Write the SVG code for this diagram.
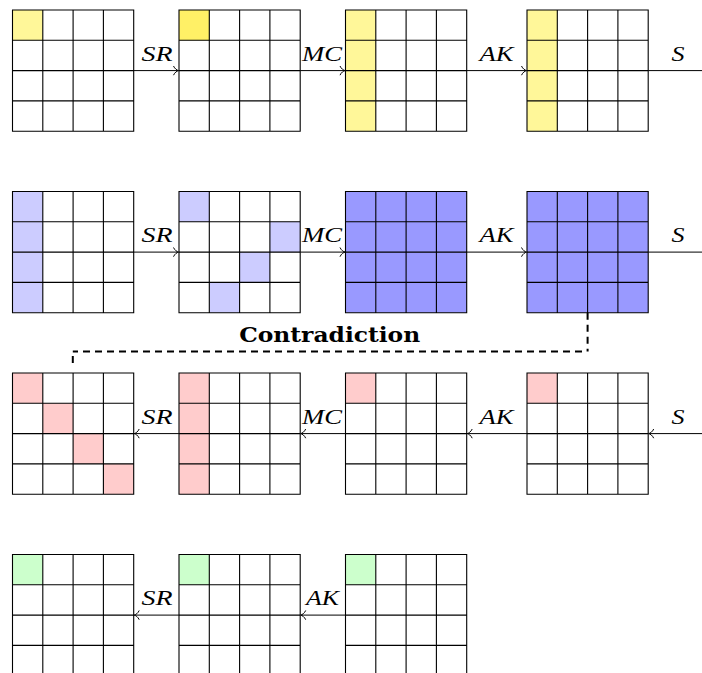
<svg xmlns="http://www.w3.org/2000/svg" xmlns:xlink="http://www.w3.org/1999/xlink" width="702" height="673" viewBox="0 0 702 673">
<style>
.gl{fill:none;stroke:#000;stroke-width:1.1}
.y1{fill:#FFF799}
.y2{fill:#FFF066}
.b1{fill:#CCCCFF}
.b2{fill:#9999FF}
.r1{fill:#FFCCCC}
.g1{fill:#CCFFCC}
.conn{stroke:#000;stroke-width:1;fill:none;marker-end:url(#arr)}
.lbl{font-family:"Liberation Serif","Times New Roman",serif;font-style:italic;font-size:20px;text-anchor:middle;fill:#000}
.title{font-family:"DejaVu Serif","Liberation Serif",serif;font-weight:bold;font-size:20px;text-anchor:middle;fill:#000}
.dash{stroke:#000;stroke-width:2;fill:none;stroke-dasharray:7 5}
</style>
<defs>
<path id="grid" class="gl" d="M0,0H121.2V121.2H0Z M30.3,0V121.2 M60.6,0V121.2 M90.9,0V121.2 M0,30.3H121.2 M0,60.6H121.2 M0,90.9H121.2"/>
<marker id="arr" markerUnits="userSpaceOnUse" markerWidth="12" markerHeight="12" viewBox="-6 -6 12 12" refX="0" refY="0" orient="auto" overflow="visible">
<path d="M-5,-4.6 C-3.8,-1.8 -1.3,-0.3 0,0 C-1.3,0.3 -3.8,1.8 -5,4.6" fill="none" stroke="#000" stroke-width="1"/>
</marker>
</defs>
<rect width="702" height="673" fill="#fff"/>

<!-- Row 1 (yellow) -->
<g id="r1g1" transform="translate(12.5,10)"><rect class="y1" x="0" y="0" width="30.3" height="30.3"/><use xlink:href="#grid"/></g>
<g id="r1g2" transform="translate(179,10)"><rect class="y2" x="0" y="0" width="30.3" height="30.3"/><use xlink:href="#grid"/></g>
<g id="r1g3" transform="translate(345.5,10)"><rect class="y1" x="0" y="0" width="30.3" height="121.2"/><use xlink:href="#grid"/></g>
<g id="r1g4" transform="translate(527,10)"><rect class="y1" x="0" y="0" width="30.3" height="121.2"/><use xlink:href="#grid"/></g>

<!-- Row 2 (blue) -->
<g id="r2g1" transform="translate(12.5,191.5)"><rect class="b1" x="0" y="0" width="30.3" height="121.2"/><use xlink:href="#grid"/></g>
<g id="r2g2" transform="translate(179,191.5)"><rect class="b1" x="0" y="0" width="30.3" height="30.3"/><rect class="b1" x="90.9" y="30.3" width="30.3" height="30.3"/><rect class="b1" x="60.6" y="60.6" width="30.3" height="30.3"/><rect class="b1" x="30.3" y="90.9" width="30.3" height="30.3"/><use xlink:href="#grid"/></g>
<g id="r2g3" transform="translate(345.5,191.5)"><rect class="b2" x="0" y="0" width="121.2" height="121.2"/><use xlink:href="#grid"/></g>
<g id="r2g4" transform="translate(527,191.5)"><rect class="b2" x="0" y="0" width="121.2" height="121.2"/><use xlink:href="#grid"/></g>

<!-- Row 3 (red) -->
<g id="r3g1" transform="translate(12.5,373)"><rect class="r1" x="0" y="0" width="30.3" height="30.3"/><rect class="r1" x="30.3" y="30.3" width="30.3" height="30.3"/><rect class="r1" x="60.6" y="60.6" width="30.3" height="30.3"/><rect class="r1" x="90.9" y="90.9" width="30.3" height="30.3"/><use xlink:href="#grid"/></g>
<g id="r3g2" transform="translate(179,373)"><rect class="r1" x="0" y="0" width="30.3" height="121.2"/><use xlink:href="#grid"/></g>
<g id="r3g3" transform="translate(345.5,373)"><rect class="r1" x="0" y="0" width="30.3" height="30.3"/><use xlink:href="#grid"/></g>
<g id="r3g4" transform="translate(527,373)"><rect class="r1" x="0" y="0" width="30.3" height="30.3"/><use xlink:href="#grid"/></g>

<!-- Row 4 (green) -->
<g id="r4g1" transform="translate(12.5,554.5)"><rect class="g1" x="0" y="0" width="30.3" height="30.3"/><use xlink:href="#grid"/></g>
<g id="r4g2" transform="translate(179,554.5)"><rect class="g1" x="0" y="0" width="30.3" height="30.3"/><use xlink:href="#grid"/></g>
<g id="r4g3" transform="translate(345.5,554.5)"><rect class="g1" x="0" y="0" width="30.3" height="30.3"/><use xlink:href="#grid"/></g>

<!-- Connectors -->
<g id="connectors">
<line class="conn" x1="133.7" y1="70.6" x2="178.5" y2="70.6"/>
<line class="conn" x1="300.2" y1="70.6" x2="345" y2="70.6"/>
<line class="conn" x1="466.7" y1="70.6" x2="526.5" y2="70.6"/>
<line class="conn" x1="648.2" y1="70.6" x2="712" y2="70.6"/>

<line class="conn" x1="133.7" y1="252.1" x2="178.5" y2="252.1"/>
<line class="conn" x1="300.2" y1="252.1" x2="345" y2="252.1"/>
<line class="conn" x1="466.7" y1="252.1" x2="526.5" y2="252.1"/>
<line class="conn" x1="648.2" y1="252.1" x2="712" y2="252.1"/>

<line class="conn" x1="179" y1="433.6" x2="134.2" y2="433.6"/>
<line class="conn" x1="345.5" y1="433.6" x2="300.7" y2="433.6"/>
<line class="conn" x1="527" y1="433.6" x2="467.2" y2="433.6"/>
<line class="conn" x1="712" y1="433.6" x2="648.7" y2="433.6"/>

<line class="conn" x1="179" y1="615.1" x2="134.2" y2="615.1"/>
<line class="conn" x1="345.5" y1="615.1" x2="300.7" y2="615.1"/>

<g id="contradiction-link">
<path class="dash" d="M587.6,312.7 V351.5"/>
<path class="dash" d="M582,351.5 H72.8"/>
<path class="dash" d="M72.8,356 V363.5"/>
</g>
</g>

<!-- Labels -->
<g id="labels">
<text class="lbl" x="157" y="60.6" textLength="31" lengthAdjust="spacingAndGlyphs">SR</text>
<text class="lbl" x="322" y="60.6" textLength="40" lengthAdjust="spacingAndGlyphs">MC</text>
<text class="lbl" x="496.5" y="60.6" textLength="34" lengthAdjust="spacingAndGlyphs">AK</text>
<text class="lbl" x="678" y="60.6" textLength="13" lengthAdjust="spacingAndGlyphs">S</text>

<text class="lbl" x="157" y="242.1" textLength="31" lengthAdjust="spacingAndGlyphs">SR</text>
<text class="lbl" x="322" y="242.1" textLength="40" lengthAdjust="spacingAndGlyphs">MC</text>
<text class="lbl" x="496.5" y="242.1" textLength="34" lengthAdjust="spacingAndGlyphs">AK</text>
<text class="lbl" x="678" y="242.1" textLength="13" lengthAdjust="spacingAndGlyphs">S</text>

<text class="lbl" x="157" y="423.6" textLength="31" lengthAdjust="spacingAndGlyphs">SR</text>
<text class="lbl" x="322" y="423.6" textLength="40" lengthAdjust="spacingAndGlyphs">MC</text>
<text class="lbl" x="496.5" y="423.6" textLength="34" lengthAdjust="spacingAndGlyphs">AK</text>
<text class="lbl" x="678" y="423.6" textLength="13" lengthAdjust="spacingAndGlyphs">S</text>

<text class="lbl" x="157" y="605.1" textLength="31" lengthAdjust="spacingAndGlyphs">SR</text>
<text class="lbl" x="322.6" y="605.1" textLength="33" lengthAdjust="spacingAndGlyphs">AK</text>

<text class="title" x="329.7" y="341.7" textLength="181" lengthAdjust="spacingAndGlyphs">Contradiction</text>
</g>
</svg>
